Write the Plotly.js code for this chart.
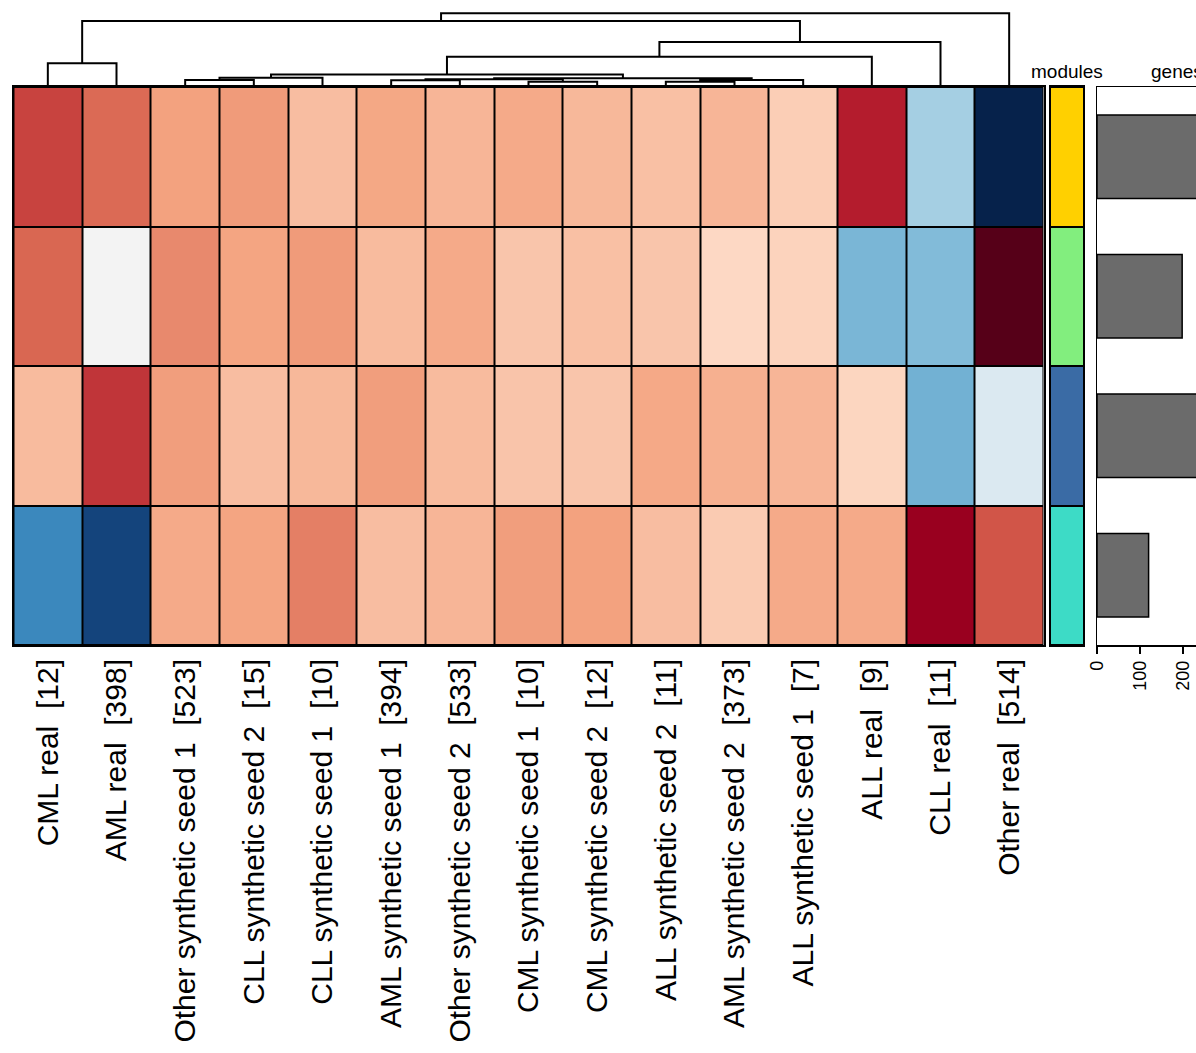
<!DOCTYPE html>
<html>
<head>
<meta charset="utf-8">
<script src="https://cdn.plot.ly/plotly-3.0.1.min.js"></script>
<style>html,body{margin:0;padding:0;background:#fff;}#chart{width:1196px;height:1053px;}</style>
</head>
<body>
<div id="chart"></div>
<script>
// ---- data ----
const columns = ['CML real','AML real','Other synthetic seed 1','CLL synthetic seed 2','CLL synthetic seed 1',
  'AML synthetic seed 1','Other synthetic seed 2','CML synthetic seed 1','CML synthetic seed 2',
  'ALL synthetic seed 2','AML synthetic seed 2','ALL synthetic seed 1','ALL real','CLL real','Other real'];
const sampleCounts = [12,398,523,15,10,394,533,10,12,11,373,7,9,11,514];
const modules = ['yellow','lightgreen','steelblue','turquoise'];
const moduleColors = ['#FFD000','#82EE7E','#3A6BA5','#3DDBC6'];
const row1 = [0.68,0.57,0.41,0.43,0.31,0.39,0.34,0.38,0.33,0.30,0.34,0.25,0.79,-0.34,-1.00];
const row2 = [0.58,0.00,0.48,0.40,0.43,0.32,0.38,0.28,0.30,0.28,0.21,0.23,-0.46,-0.44,1.00];
const row3 = [0.32,0.72,0.42,0.31,0.33,0.42,0.32,0.285,0.28,0.385,0.36,0.34,0.22,-0.48,-0.14];
const row4 = [-0.65,-0.90,0.38,0.40,0.51,0.31,0.34,0.42,0.41,0.31,0.26,0.38,0.38,0.90,0.63];
const genes = [300,198,280,120];
// hclust-style merges: negative = leaf (1-based), positive = earlier merge; third = height
const merges = [
  [-3,-4,5],[1,-5,7.3],[-6,-7,4.7],[-8,-9,3.3],[3,4,5.7],[-10,-11,3.3],[6,-12,5],
  [5,7,6.7],[2,8,10.5],[9,-13,28.3],[10,-14,43],[-1,-2,21.7],[12,11,64],[13,-15,71.7]
];

// ---- build ----
const FONT = 'Liberation Sans, Arial, Helvetica, sans-serif';
const W = 1196, H = 1053;
const px = v => v / W;
const py = v => (H - v) / H;

const labels = columns.map((c,i) => c + '\u00a0 [' + sampleCounts[i] + ']');
const idx = columns.map((_,i) => i);
const z = [row1,row2,row3,row4];
const rowIdx = modules.map((_,i) => i);

const cs = [
  [0.00,'#06224B'],[0.10,'#2166AC'],[0.20,'#4393C3'],[0.30,'#92C5DE'],[0.40,'#D1E5F0'],
  [0.50,'#F3F3F3'],[0.60,'#FDDBC7'],[0.70,'#F4A582'],[0.80,'#D6604D'],[0.90,'#B2182B'],
  [0.95,'#99001F'],[1.00,'#560018']
];

// dendrogram segments
const dx = [], dy = [];
const nodeX = [], nodeH = [];
function pos(ref){ return ref < 0 ? [-ref-1, 0] : [nodeX[ref-1], nodeH[ref-1]]; }
merges.forEach(m => {
  const [xa,ha] = pos(m[0]); const [xb,hb] = pos(m[1]); const h = m[2];
  dx.push(xa,xa,xb,xb,null); dy.push(ha,h,h,hb,null);
  nodeX.push((xa+xb)/2); nodeH.push(h);
});

const traces = [
  {type:'heatmap', x: idx, y: rowIdx, z: z, colorscale: cs, zmin:-1, zmax:1, showscale:false,
   xgap:2, ygap:2, xaxis:'x', yaxis:'y', hoverinfo:'skip'},
  {type:'scatter', mode:'lines', x: dx, y: dy, line:{color:'#000', width:2}, xaxis:'x2', yaxis:'y2',
   hoverinfo:'skip', showlegend:false},
  {type:'heatmap', x:[0], y: rowIdx, z: rowIdx.map(i=>[i]),
   colorscale: moduleColors.map((c,i)=>[i/(moduleColors.length-1), c]), zmin:0, zmax:moduleColors.length-1,
   showscale:false, ygap:2, xaxis:'x4', yaxis:'y4', hoverinfo:'skip'},
  {type:'bar', orientation:'h', x: genes, y: rowIdx, width:0.6,
   marker:{color:'#6B6B6B', line:{color:'#000', width:1.5}}, xaxis:'x3', yaxis:'y3', hoverinfo:'skip', showlegend:false}
];

const hmY = [py(645), py(87)];
const layout = {
  width: W, height: H, margin:{l:0,r:0,t:0,b:0}, showlegend:false,
  paper_bgcolor:'#fff', plot_bgcolor:'#fff', font:{family:FONT, color:'#000'},
  xaxis:{domain:[px(13.5), px(1043.5)], range:[-0.5,14.5], tickmode:'array', tickvals: idx, ticktext: labels,
    tickangle:-90, ticks:'', tickfont:{size:30, family:FONT, color:'#000'}, ticklabelstandoff:0,
    showline:true, mirror:true, linecolor:'#000', linewidth:2, showgrid:false, zeroline:false, fixedrange:true},
  yaxis:{domain: hmY, range:[3.5,-0.5], showticklabels:false, ticks:'', showline:true, mirror:true,
    linecolor:'#000', linewidth:2, showgrid:false, zeroline:false},
  xaxis2:{domain:[px(13.5), px(1043.5)], range:[-0.5,14.5], visible:false},
  yaxis2:{domain:[py(85), py(10)], range:[0,75], visible:false},
  xaxis4:{domain:[px(1050.5), px(1083)], range:[-0.5,0.5], visible:true, showticklabels:false, ticks:'',
    showline:true, mirror:true, linecolor:'#000', linewidth:2, showgrid:false, zeroline:false},
  yaxis4:{domain: hmY, range:[3.5,-0.5], anchor:'x4', showticklabels:false, ticks:'', showline:true, mirror:true,
    linecolor:'#000', linewidth:2, showgrid:false, zeroline:false},
  xaxis3:{domain:[px(1097), 1], range:[0,230.2], anchor:'y3', tickmode:'array', tickvals:[0,100,200],
    tickangle:-90, ticks:'outside', ticklen:7, tickwidth:1.5, tickcolor:'#000',
    tickfont:{size:18, family:FONT, color:'#000'}, showline:true, mirror:true, linecolor:'#000', linewidth:1.5,
    showgrid:false, zeroline:false},
  yaxis3:{domain: hmY, range:[3.5,-0.5], anchor:'x3', showticklabels:false, ticks:'', showline:true,
    linecolor:'#000', linewidth:1.5, showgrid:false, zeroline:false},
  shapes:[
    {type:'rect', xref:'x domain', yref:'y domain', x0:0, x1:1, y0:0, y1:1, fillcolor:'#000', line:{width:0}, layer:'below'},
    {type:'rect', xref:'x4 domain', yref:'y4 domain', x0:0, x1:1, y0:0, y1:1, fillcolor:'#000', line:{width:0}, layer:'below'}
  ],
  annotations:[
    {text:'modules', xref:'paper', yref:'paper', x:px(1066.5), y:py(84), xanchor:'center', yanchor:'bottom',
     showarrow:false, font:{size:19, family:FONT, color:'#000'}},
    {text:'genes', xref:'paper', yref:'paper', x:px(1149), y:py(84), xanchor:'left', yanchor:'bottom',
     showarrow:false, font:{size:19, family:FONT, color:'#000'}}
  ]
};

Plotly.newPlot('chart', traces, layout, {displayModeBar:false, staticPlot:true});
</script>
</body>
</html>
